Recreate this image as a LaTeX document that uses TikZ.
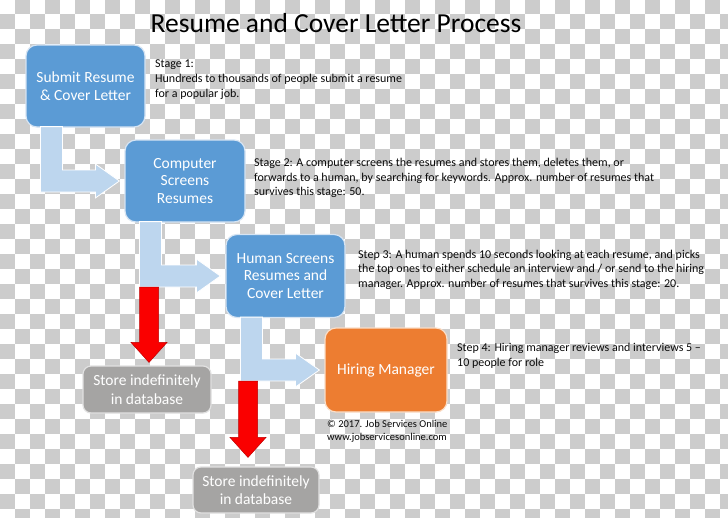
\documentclass[tikz,border=0pt]{standalone}
\usepackage{fontspec}
\setmainfont{Carlito}
\usetikzlibrary{calc}
\definecolor{chk}{RGB}{204,204,204}
\definecolor{boxblue}{RGB}{91,155,213}
\definecolor{boxedge}{RGB}{214,228,243}
\definecolor{mgrorange}{RGB}{237,125,49}
\definecolor{orangeedge}{RGB}{250,222,200}
\definecolor{storegray}{RGB}{165,164,163}
\definecolor{storeedge}{RGB}{225,225,225}
\definecolor{elbowblue}{RGB}{189,214,238}
\definecolor{arrowred}{RGB}{250,0,0}
\definecolor{desctext}{RGB}{10,10,10}
\newcommand\elbowarrow[3]{%
  \coordinate (#3a) at ($(#1.south west)+(15,-1)$);
  \coordinate (#3t) at ($(#2.west)+(-5,0)$);
  \fill[elbowsty] (#3a) -- ($(#3a)+(22,0)$) -- ($(#3a|-#3t)+(22,-11)$)
    -- ($(#3t)+(-24,-11)$) -- ($(#3t)+(-24,-17)$) -- (#3t)
    -- ($(#3t)+(-24,17)$) -- ($(#3t)+(-24,11)$) -- ($(#3a|-#3t)+(0,11)$) -- cycle;}
\newcommand\redarrow[2]{%
  \fill[redsty] ($(#1)+(-9.5,0)$) -- ($(#1)+(9.5,0)$) -- ($(#2)+(9.5,-20)$)
    -- ($(#2)+(18,-20)$) -- (#2) -- ($(#2)+(-18,-20)$) -- ($(#2)+(-9.5,-20)$) -- cycle;}
\begin{document}
\begin{tikzpicture}[x=1pt,y=-1pt,
  stagebox/.style={rectangle, rounded corners=11pt, fill=boxblue, draw=boxedge,
    line width=1.2pt, text=white, align=center, inner sep=0pt,
    font=\fontsize{15.5}{17.5}\selectfont},
  mgrbox/.style={stagebox, fill=mgrorange, draw=orangeedge},
  storebox/.style={stagebox, rounded corners=8pt, fill=storegray, draw=storeedge,
    font=\fontsize{15.5}{18.5}\selectfont},
  desc/.style={anchor=north west, align=left, inner sep=0pt, text=desctext,
    font=\fontsize{12}{14.6}\selectfont},
  elbowsty/.style={fill=elbowblue, draw=white, line width=0.8pt},
  redsty/.style={fill=arrowred, draw=red!75!black, line width=0.5pt}]
\useasboundingbox (0,0) rectangle (728,517);
\begin{scope}
\clip (0,0) rectangle (728,517);
\fill[white] (0,0) rectangle (728,517);
\foreach \r in {0,...,34}{
  \foreach \c in {0,...,48}{
    \pgfmathtruncatemacro\chkpar{mod(\r+\c,2)}
    \ifnum\chkpar=1 \fill[chk] (\c*15,\r*15-1.5) rectangle ++(15,15); \fi
  }}
\end{scope}
% title
\node[font=\fontsize{27.5}{30}\selectfont, text=black] (title) at (336,23.5) {Resume and Cover Letter Process};
% boxes
\node[stagebox, minimum width=119, minimum height=82] (box1) at (85.5,86) {Submit Resume\\\& Cover Letter};
\node[stagebox, minimum width=120, minimum height=82] (box2) at (185,181) {Computer\\Screens\\Resumes};
\node[stagebox, minimum width=119, minimum height=83] (box3) at (285.5,276) {Human Screens\\Resumes and\\Cover Letter};
\node[mgrbox, minimum width=122, minimum height=84] (box4) at (386,370) {Hiring Manager};
\node[storebox, minimum width=128, minimum height=47] (store1) at (147,389.5) {Store indefinitely\\in database};
\node[storebox, minimum width=126, minimum height=46] (store2) at (256,490) {Store indefinitely\\in database};
% descriptions
\node[desc] (d1) at (155,60) {Stage 1:\\Hundreds to thousands of people submit a resume\\for a popular job.};
\node[desc] (d2) at (254,158) {Stage 2: A computer screens the resumes and stores them, deletes them, or\\forwards to a human, by searching for keywords. Approx. number of resumes that\\survives this stage: 50.};
\node[desc] (d3) at (358,249.5) {Step 3: A human spends 10 seconds looking at each resume, and picks\\the top ones to either schedule an interview and / or send to the hiring\\manager. Approx. number of resumes that survives this stage: 20.};
\node[desc] (d4) at (457,343) {Step 4: Hiring manager reviews and interviews 5 –\\10 people for role};
\node[desc, font=\fontsize{10.5}{13}\selectfont] (copy) at (327,420.5) {© 2017. Job Services Online\\www.jobservicesonline.com};
% elbow arrows
\elbowarrow{box1}{box2}{ea}
\elbowarrow{box2}{box3}{eb}
\elbowarrow{box3}{box4}{ec}
% red arrows
\coordinate (r1t) at ($(store1.north)+(2,-3)$);
\coordinate (r1s) at ($(r1t|-ebt)+(0,11)$);
\redarrow{r1s}{r1t}
\coordinate (r2t) at ($(store2.north)+(-8,-9)$);
\coordinate (r2s) at ($(r2t|-ect)+(0,11)$);
\redarrow{r2s}{r2t}
\end{tikzpicture}
\end{document}
